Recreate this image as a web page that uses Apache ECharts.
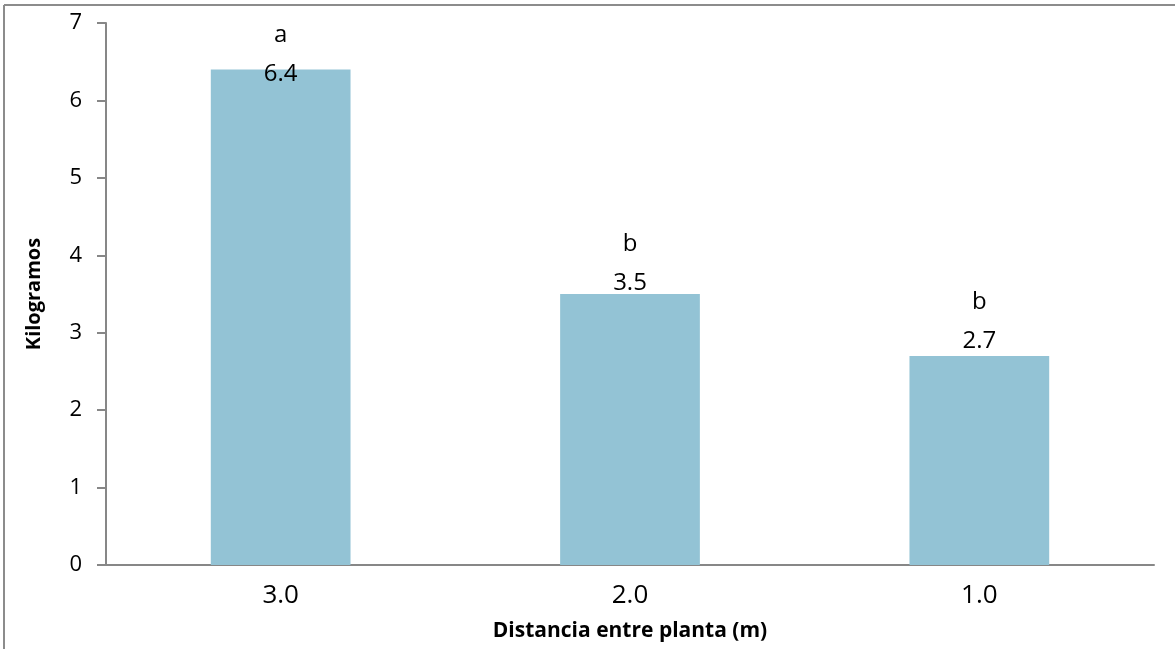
<!DOCTYPE html>
<html>
<head>
<meta charset="utf-8">
<script src="https://cdn.jsdelivr.net/npm/echarts@6/dist/echarts.min.js"></script>
<style>
  html, body { margin: 0; padding: 0; background: #fff; }
  #chart { width: 1175px; height: 649px; }
</style>
</head>
<body>
<div id="chart"></div>
<script>
// Distance between plants (m) and yield in kilograms
const categories = ['3.0', '2.0', '1.0'];
const kilogramos = [6.4, 3.5, 2.7];
const grupos = ['a', 'b', 'b'];
const yTicks = [0, 1, 2, 3, 4, 5, 6, 7];

const FONT = '"Open Sans", "Noto Sans", sans-serif';
// vertical nudge of each value label relative to its bar top
const labelShift = [18, 2, -2];

const chart = echarts.init(document.getElementById('chart'), null, { renderer: 'canvas' });

chart.setOption({
  animation: false,
  backgroundColor: '#ffffff',
  grid: { left: 106, right: 21, top: 23, bottom: 84, containLabel: false, outerBoundsMode: 'none' },
  graphic: [
    { type: 'line', shape: { x1: 4, y1: 5, x2: 1175, y2: 5 }, style: { stroke: '#8c8c8c', lineWidth: 2 } },
    { type: 'line', shape: { x1: 4, y1: 5, x2: 4, y2: 649 }, style: { stroke: '#8c8c8c', lineWidth: 2 } }
  ],
  xAxis: {
    type: 'category',
    data: categories,
    name: 'Distancia entre planta (m)',
    nameLocation: 'middle',
    nameGap: 56,
    nameTextStyle: { fontFamily: FONT, fontWeight: 'bold', fontSize: 21, color: '#000' },
    axisLine: { lineStyle: { color: '#878787', width: 2 } },
    axisTick: { show: false },
    axisLabel: { fontFamily: FONT, fontSize: 26, color: '#000', margin: 18 }
  },
  yAxis: {
    type: 'value',
    min: yTicks[0],
    max: yTicks[yTicks.length - 1],
    interval: 1,
    name: 'Kilogramos',
    nameLocation: 'middle',
    nameGap: 62,
    nameTextStyle: { fontFamily: FONT, fontWeight: 'bold', fontSize: 20, color: '#000' },
    axisLine: { show: true, lineStyle: { color: '#878787', width: 2 } },
    axisTick: { show: true, inside: false, length: 9, lineStyle: { color: '#878787', width: 2 } },
    splitLine: { show: false },
    axisLabel: { fontFamily: FONT, fontSize: 22, color: '#000', margin: 24 }
  },
  series: [{
    type: 'bar',
    barWidth: '40%',
    itemStyle: { color: '#93c3d5' },
    data: kilogramos.map((v, i) => ({
      value: v,
      label: { offset: [0, labelShift[i]] }
    })),
    label: {
      show: true,
      position: 'top',
      distance: 0,
      formatter: p => '{l|' + grupos[p.dataIndex] + '}\n{v|' + p.value.toFixed(1) + '}',
      rich: {
        l: { fontFamily: FONT, fontSize: 24, color: '#000', lineHeight: 52 },
        v: { fontFamily: FONT, fontSize: 24, color: '#000', lineHeight: 26 }
      }
    }
  }]
});
</script>
</body>
</html>
